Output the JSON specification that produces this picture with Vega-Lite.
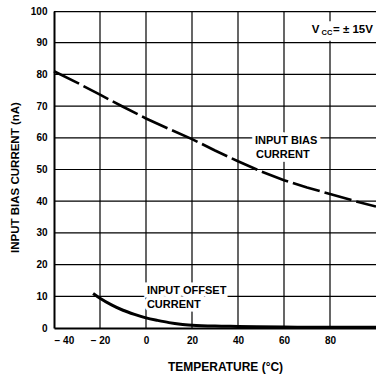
{
  "$schema": "https://vega.github.io/schema/vega-lite/v6.json",
  "autosize": "none",
  "width": 322,
  "height": 317,
  "padding": {"left": 54, "top": 11, "right": 0, "bottom": 46},
  "background": "white",
  "config": {
    "view": {"stroke": null},
    "font": "Liberation Sans",
    "axis": {
      "grid": false,
      "domainColor": "black", "domainWidth": 2,
      "ticks": false,
      "labelOverlap": false,
      "labelFont": "Liberation Sans", "labelFontWeight": "bold", "labelFontSize": 10, "labelColor": "black",
      "titleFont": "Liberation Sans", "titleFontWeight": "bold", "titleColor": "black"
    }
  },
  "datasets": {
    "grid": [
      {"g": "x-20", "t": -20, "i": 0}, {"g": "x-20", "t": -20, "i": 100},
      {"g": "x0", "t": 0, "i": 0}, {"g": "x0", "t": 0, "i": 100},
      {"g": "x20", "t": 20, "i": 0}, {"g": "x20", "t": 20, "i": 100},
      {"g": "x40", "t": 40, "i": 0}, {"g": "x40", "t": 40, "i": 100},
      {"g": "x60", "t": 60, "i": 0}, {"g": "x60", "t": 60, "i": 100},
      {"g": "x80", "t": 80, "i": 0}, {"g": "x80", "t": 80, "i": 100},
      {"g": "y10", "t": -40, "i": 10}, {"g": "y10", "t": 100, "i": 10},
      {"g": "y20", "t": -40, "i": 20}, {"g": "y20", "t": 100, "i": 20},
      {"g": "y30", "t": -40, "i": 30}, {"g": "y30", "t": 100, "i": 30},
      {"g": "y40", "t": -40, "i": 40}, {"g": "y40", "t": 100, "i": 40},
      {"g": "y50", "t": -40, "i": 50}, {"g": "y50", "t": 100, "i": 50},
      {"g": "y60", "t": -40, "i": 60}, {"g": "y60", "t": 100, "i": 60},
      {"g": "y70", "t": -40, "i": 70}, {"g": "y70", "t": 100, "i": 70},
      {"g": "y80", "t": -40, "i": 80}, {"g": "y80", "t": 100, "i": 80},
      {"g": "y90", "t": -40, "i": 90}, {"g": "y90", "t": 100, "i": 90},
      {"g": "y100", "t": -40, "i": 99.8}, {"g": "y100", "t": 100, "i": 99.8}
    ],
    "bias": [
      {"t": -40, "i": 81}, {"t": -30, "i": 77.4}, {"t": -20, "i": 73.6}, {"t": -10, "i": 69.8},
      {"t": 0, "i": 66.1}, {"t": 10, "i": 62.8}, {"t": 20, "i": 59.6}, {"t": 30, "i": 56},
      {"t": 40, "i": 52.6}, {"t": 50, "i": 49.4}, {"t": 60, "i": 46.6}, {"t": 70, "i": 44.3},
      {"t": 80, "i": 42.3}, {"t": 90, "i": 40.2}, {"t": 100, "i": 38.3}
    ],
    "offset": [
      {"t": -23, "i": 10.9}, {"t": -20, "i": 9.4}, {"t": -15, "i": 7.3}, {"t": -10, "i": 5.6},
      {"t": -5, "i": 4.3}, {"t": 0, "i": 3.2}, {"t": 5, "i": 2.4}, {"t": 10, "i": 1.7},
      {"t": 15, "i": 1.2}, {"t": 20, "i": 0.9}, {"t": 30, "i": 0.6}, {"t": 40, "i": 0.5},
      {"t": 60, "i": 0.3}, {"t": 80, "i": 0.2}, {"t": 100, "i": 0.2}
    ],
    "labels": [
      {"t": 47.4, "i": 58.2, "txt": "INPUT BIAS"},
      {"t": 47.8, "i": 53.5, "txt": "CURRENT"},
      {"t": 0.4, "i": 10.6, "txt": "INPUT OFFSET"},
      {"t": 0.4, "i": 6.2, "txt": "CURRENT"}
    ],
    "vccBox": [{"t": 70.5, "t2": 100, "i": 90.6, "i2": 96.8}],
    "vccMain": [
      {"t": 72.1, "i": 93.2, "txt": "V"},
      {"t": 81.3, "i": 93.2, "txt": "= ± 15V"}
    ],
    "vccSub": [{"t": 76.3, "i": 93.2, "txt": "CC"}]
  },
  "encoding": {
    "x": {
      "field": "t", "type": "quantitative",
      "scale": {"domain": [-40, 100], "nice": false},
      "axis": {
        "values": [-40, -20, 0, 20, 40, 60, 80, 100],
        "labelExpr": "datum.value == 100 ? '' : (datum.value < 0 ? '− ' + abs(datum.value) : datum.label)",
        "labelPadding": 7,
        "title": "TEMPERATURE (°C)", "titleFontSize": 12,
        "titleX": 171, "titleY": 42.5, "titleBaseline": "alphabetic", "titleAlign": "center"
      }
    },
    "y": {
      "field": "i", "type": "quantitative",
      "scale": {"domain": [0, 100], "nice": false},
      "axis": {
        "values": [0, 10, 20, 30, 40, 50, 60, 70, 80, 90, 100],
        "labelPadding": 7,
        "title": "INPUT BIAS CURRENT (nA)", "titleFontSize": 11.5,
        "titleAngle": 270, "titleX": -39, "titleY": 166, "titleBaseline": "middle", "titleAlign": "center"
      }
    }
  },
  "layer": [
    {
      "data": {"name": "grid"},
      "mark": {"type": "line", "color": "black", "strokeWidth": 1.2},
      "encoding": {"detail": {"field": "g", "type": "nominal"}}
    },
    {
      "data": {"name": "bias"},
      "mark": {"type": "line", "color": "black", "strokeWidth": 2.6, "strokeDash": [28, 5], "strokeCap": "butt"}
    },
    {
      "data": {"name": "offset"},
      "mark": {"type": "line", "color": "black", "strokeWidth": 3, "interpolate": "monotone"}
    },
    {
      "data": {"name": "labels"},
      "mark": {"type": "text", "align": "left", "baseline": "alphabetic", "font": "Liberation Sans", "fontWeight": "bold", "fontSize": 11, "color": "white", "stroke": "white", "strokeWidth": 7},
      "encoding": {"text": {"field": "txt"}}
    },
    {
      "data": {"name": "labels"},
      "mark": {"type": "text", "align": "left", "baseline": "alphabetic", "font": "Liberation Sans", "fontWeight": "bold", "fontSize": 11, "color": "black"},
      "encoding": {"text": {"field": "txt"}}
    },
    {
      "data": {"name": "vccBox"},
      "mark": {"type": "rect", "fill": "white", "stroke": null},
      "encoding": {
        "x2": {"field": "t2"},
        "y2": {"field": "i2"}
      }
    },
    {
      "data": {"name": "vccMain"},
      "mark": {"type": "text", "align": "left", "baseline": "alphabetic", "font": "Liberation Sans", "fontWeight": "bold", "fontSize": 11.5, "color": "black"},
      "encoding": {"text": {"field": "txt"}}
    },
    {
      "data": {"name": "vccSub"},
      "mark": {"type": "text", "align": "left", "baseline": "alphabetic", "font": "Liberation Sans", "fontWeight": "bold", "fontSize": 7.5, "dy": 2, "color": "black"},
      "encoding": {"text": {"field": "txt"}}
    }
  ]
}
